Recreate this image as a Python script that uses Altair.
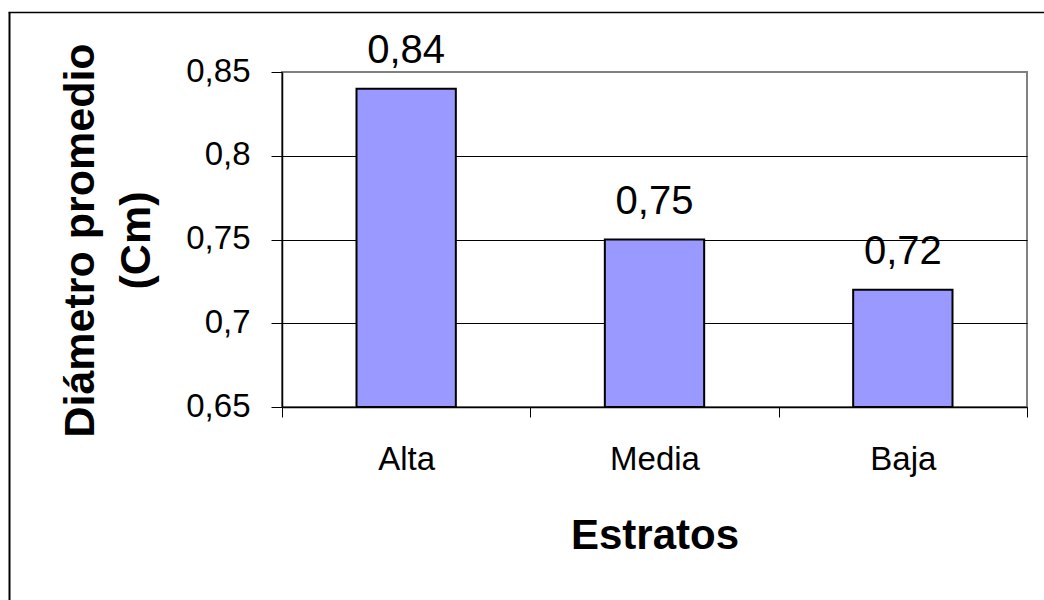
import altair as alt
import pandas as pd

categories = ["Alta", "Media", "Baja"]
values = [0.84, 0.75, 0.72]
y_ticks = [0.65, 0.70, 0.75, 0.80, 0.85]
y_min, y_max = 0.65, 0.85
x_title = "Estratos"
y_title = ["Diámetro promedio", "(Cm)"]

df = pd.DataFrame({"estrato": categories, "diametro": values})

FONT = "Liberation Sans"

x_enc = alt.X(
    "estrato:N",
    sort=categories,
    scale=alt.Scale(paddingInner=0, paddingOuter=0),
    axis=alt.Axis(
        title=x_title, labelAngle=0, tickBand="extent", ticks=True, tickSize=10,
        tickColor="black", tickWidth=1, domainColor="black", domainWidth=1.5,
        grid=False, labelFontSize=33, labelBaseline="alphabetic", labelPadding=52,
        labelColor="black", labelFont=FONT, titleFont=FONT, titleFontSize=42,
        titleFontWeight="bold", titleColor="black", titleY=141,
        titleBaseline="alphabetic",
    ),
)

y_enc = alt.Y(
    "diametro:Q",
    scale=alt.Scale(domain=[y_min, y_max], zero=False, nice=False),
    axis=alt.Axis(
        title=y_title, values=y_ticks,
        labelExpr="replace(format(datum.value, '.2~f'), '.', ',')",
        tickSize=11, tickColor="black", tickWidth=1, domainColor="black",
        domainWidth=1.5, grid=True,
        gridColor={"condition": {"test": "datum.value >= 0.849", "value": "#808080"}, "value": "black"},
        gridWidth=1, labelFontSize=33, labelPadding=21, labelBaseline="alphabetic",
        labelOffset=9, labelColor="black", labelFont=FONT, titleFont=FONT,
        titleFontSize=43, titleFontWeight="bold", titleColor="black",
        titleAngle=270, titleAlign="center", titleBaseline="alphabetic",
        titleX=-189, titleY=168, titleLineHeight=56,
    ),
)

base = alt.Chart(df).transform_calculate(
    label="replace(format(datum.diametro, '.2f'), '.', ',')"
)

bars = base.mark_bar(
    width=alt.RelativeBandSize(0.4), color="#9999FF", stroke="black", strokeWidth=2
).encode(x=x_enc, y=y_enc, y2=alt.datum(y_min))

labels = base.mark_text(
    dy=-26, baseline="alphabetic", fontSize=40, font=FONT, color="black"
).encode(x=x_enc, y=y_enc, text="label:N")

frame = alt.Chart(alt.Data(values=[{"k": 0}]))
left_rule = frame.mark_rule(color="black", strokeWidth=2).encode(
    x=alt.value(-272.5), y=alt.value(-59.5), y2=alt.value(600)
)
top_rule = frame.mark_rule(color="black", strokeWidth=1.5).encode(
    x=alt.value(-273.5), x2=alt.value(800), y=alt.value(-59.5)
)

chart = alt.layer(bars, labels, left_rule, top_rule).properties(
    width=745,
    height=335,
    autosize=alt.AutoSizeParams(type="none"),
    padding={"left": 282, "top": 72, "right": 17, "bottom": 193},
    background="white",
).configure_view(stroke="#808080", strokeWidth=2)

chart.save("out.html", embed_options={"renderer": "svg", "actions": False})
